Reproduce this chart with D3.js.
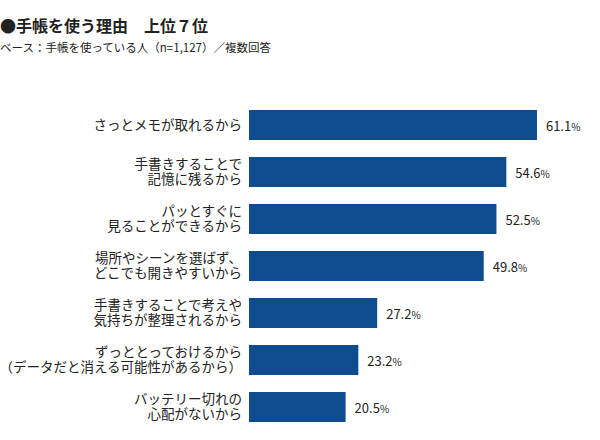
<!DOCTYPE html>
<html><head><meta charset="utf-8">
<script src="https://cdn.jsdelivr.net/npm/d3@7"></script>
<style>
body{margin:0;background:#fff;}
text{font-family:"Noto Sans CJK JP","Noto Sans",sans-serif;fill:#222;}
</style></head>
<body><svg id="c" width="600" height="440"></svg>
<script>
const categories = [
  ["さっとメモが取れるから"],
  ["手書きすることで","記憶に残るから"],
  ["パッとすぐに","見ることができるから"],
  ["場所やシーンを選ばず、","どこでも開きやすいから"],
  ["手書きすることで考えや","気持ちが整理されるから"],
  ["ずっととっておけるから","（データだと消える可能性があるから）"],
  ["バッテリー切れの","心配がないから"]
];
const values = [61.1, 54.6, 52.5, 49.8, 27.2, 23.2, 20.5];
const title = "●手帳を使う理由　上位７位";
const subtitle = "ベース：手帳を使っている人（n=1,127）／複数回答";

const svg = d3.select("#c");
const x = d3.scaleLinear().domain([0, 70]).range([249, 249 + 70*4.713]);
const y = d3.scaleBand().domain(d3.range(values.length)).range([101.5, 430.5]).paddingInner(0.362).paddingOuter(0.181);

svg.append("text").attr("x", 0).attr("y", 32).attr("font-size", 16).attr("font-weight", "bold").attr("fill","#111").text(title);
svg.append("text").attr("x", 0).attr("y", 52).attr("font-size", 11.5).text(subtitle);

svg.selectAll("rect.bar").data(values).enter().append("rect")
  .attr("class","bar")
  .attr("x", x(0)).attr("y", (d,i)=>y(i))
  .attr("width", d=>x(d)-x(0)).attr("height", y.bandwidth())
  .attr("fill", "#0f4c8f");

const lbl = svg.selectAll("g.lbl").data(categories).enter().append("g").attr("class","lbl");
lbl.each(function(lines,i){
  const g = d3.select(this);
  const cy = y(i) + y.bandwidth()/2;
  const lh = 15.5;
  lines.forEach((t,j)=>{
    g.append("text").attr("x", 242).attr("y", cy + (j - (lines.length-1)/2)*lh)
      .attr("dy","0.35em").attr("text-anchor","end").attr("font-size", 13.5).text(t);
  });
});

const vl = svg.selectAll("text.val").data(values).enter().append("text")
  .attr("class","val")
  .attr("x", d=>x(d)+9).attr("y",(d,i)=>y(i)+y.bandwidth()/2).attr("dy","0.35em");
vl.append("tspan").attr("font-size", 13).text(d=>d.toFixed(1));
vl.append("tspan").attr("font-size", 10).text("%");
</script></body></html>
